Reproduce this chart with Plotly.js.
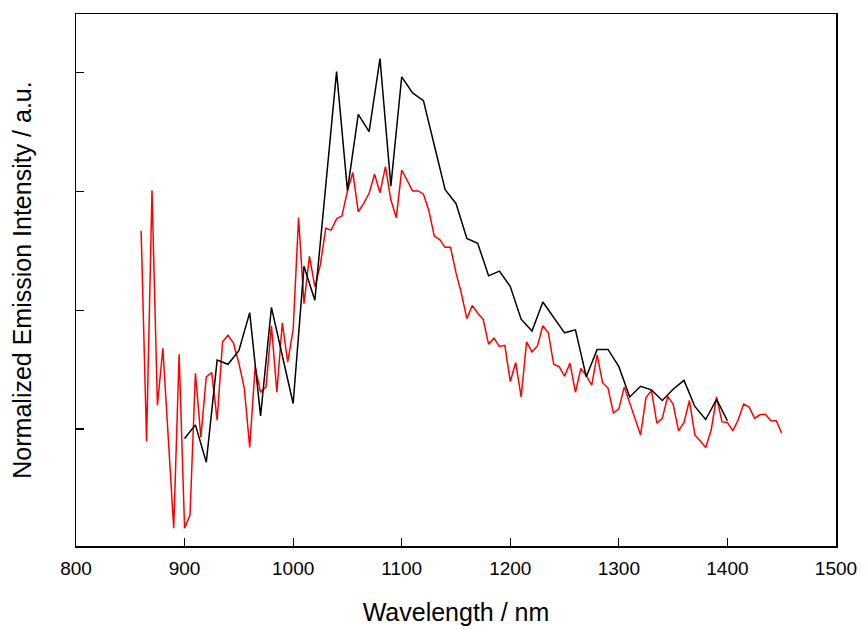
<!DOCTYPE html>
<html>
<head>
<meta charset="utf-8">
<script src="https://cdn.plot.ly/plotly-3.0.1.min.js"></script>
<style>html,body{margin:0;padding:0;background:#fff;}#chart{width:865px;height:629px;}</style>
</head>
<body>
<div id="chart"></div>
<script>
// Red spectrum (5 nm steps)
const redWavelength = [860,865,870,875,880,885,890,895,900,905,910,915,920,925,930,935,940,945,950,955,960,965,970,975,980,985,990,995,1000,1005,1010,1015,1020,1025,1030,1035,1040,1045,1050,1055,1060,1065,1070,1075,1080,1085,1090,1095,1100,1105,1110,1115,1120,1125,1130,1135,1140,1145,1150,1155,1160,1165,1170,1175,1180,1185,1190,1195,1200,1205,1210,1215,1220,1225,1230,1235,1240,1245,1250,1255,1260,1265,1270,1275,1280,1285,1290,1295,1300,1305,1310,1315,1320,1325,1330,1335,1340,1345,1350,1355,1360,1365,1370,1375,1380,1385,1390,1395,1400,1405,1410,1415,1420,1425,1430,1435,1440,1445,1450];
const redIntensity = [0.534,0.179,0.602,0.240,0.336,0.188,0.033,0.326,0.033,0.055,0.294,0.186,0.288,0.295,0.215,0.347,0.358,0.345,0.311,0.269,0.169,0.305,0.262,0.271,0.374,0.262,0.379,0.313,0.367,0.556,0.411,0.491,0.440,0.476,0.538,0.535,0.554,0.559,0.601,0.632,0.566,0.580,0.597,0.629,0.598,0.642,0.586,0.556,0.636,0.619,0.601,0.601,0.596,0.568,0.525,0.519,0.506,0.506,0.463,0.428,0.386,0.408,0.395,0.385,0.343,0.353,0.339,0.341,0.280,0.312,0.254,0.347,0.330,0.340,0.374,0.362,0.309,0.305,0.289,0.311,0.262,0.302,0.290,0.274,0.325,0.278,0.269,0.227,0.234,0.271,0.245,0.219,0.190,0.253,0.265,0.210,0.218,0.255,0.242,0.197,0.211,0.248,0.190,0.180,0.169,0.198,0.254,0.212,0.211,0.197,0.216,0.242,0.237,0.218,0.224,0.225,0.214,0.214,0.193];

// Black spectrum (10 nm steps)
const blackWavelength = [900,910,920,930,940,950,960,970,980,990,1000,1010,1020,1030,1040,1050,1060,1070,1080,1090,1100,1110,1120,1130,1140,1150,1160,1170,1180,1190,1200,1210,1220,1230,1240,1250,1260,1270,1280,1290,1300,1310,1320,1330,1340,1350,1360,1370,1380,1390,1400];
const blackIntensity = [0.184,0.207,0.144,0.316,0.309,0.332,0.396,0.222,0.405,0.325,0.243,0.474,0.417,0.609,0.802,0.602,0.730,0.701,0.824,0.609,0.793,0.766,0.753,0.678,0.603,0.580,0.521,0.513,0.458,0.466,0.440,0.385,0.365,0.414,0.388,0.362,0.367,0.288,0.334,0.334,0.305,0.254,0.272,0.266,0.248,0.267,0.282,0.238,0.216,0.250,0.214];

const xTicks = [800,900,1000,1100,1200,1300,1400,1500];
const yTicks = [0.2,0.4,0.6,0.8];

const FONT = 'Arial, "Liberation Sans", sans-serif';

const traces = [
  {x: redWavelength, y: redIntensity, type: 'scatter', mode: 'lines',
   line: {color: '#ff0000', width: 1.5}, name: 'red', hoverinfo: 'skip'},
  {x: blackWavelength, y: blackIntensity, type: 'scatter', mode: 'lines',
   line: {color: '#000000', width: 1.5}, name: 'black', hoverinfo: 'skip'}
];

const layout = {
  width: 865, height: 629,
  margin: {l: 76, r: 29, t: 14, b: 83, pad: 0},
  paper_bgcolor: '#ffffff', plot_bgcolor: '#ffffff',
  showlegend: false,
  font: {family: FONT, color: '#000000'},
  xaxis: {
    range: [800, 1500], tickvals: xTicks, ticktext: xTicks.map(String),
    ticks: 'inside', ticklen: 8, tickwidth: 1.2, tickcolor: '#000',
    showline: true, linecolor: '#000', linewidth: 1.5, mirror: true,
    showgrid: false, zeroline: false,
    tickfont: {family: FONT, size: 19, color: '#000'},
    ticklabelstandoff: 5,
    title: {text: 'Wavelength / nm', font: {family: FONT, size: 25, color: '#000'}, standoff: 25},
    automargin: false
  },
  yaxis: {
    range: [0.003, 0.899], tickvals: yTicks, showticklabels: false,
    ticks: 'inside', ticklen: 8, tickwidth: 1.2, tickcolor: '#000',
    showline: true, linecolor: '#000', linewidth: 1.5, mirror: true,
    showgrid: false, zeroline: false,
    title: {text: 'Normalized Emission Intensity / a.u.', font: {family: FONT, size: 25, color: '#000'}, standoff: 36},
    automargin: false
  }
};

Plotly.newPlot('chart', traces, layout, {displayModeBar: false, staticPlot: true});
</script>
</body>
</html>
